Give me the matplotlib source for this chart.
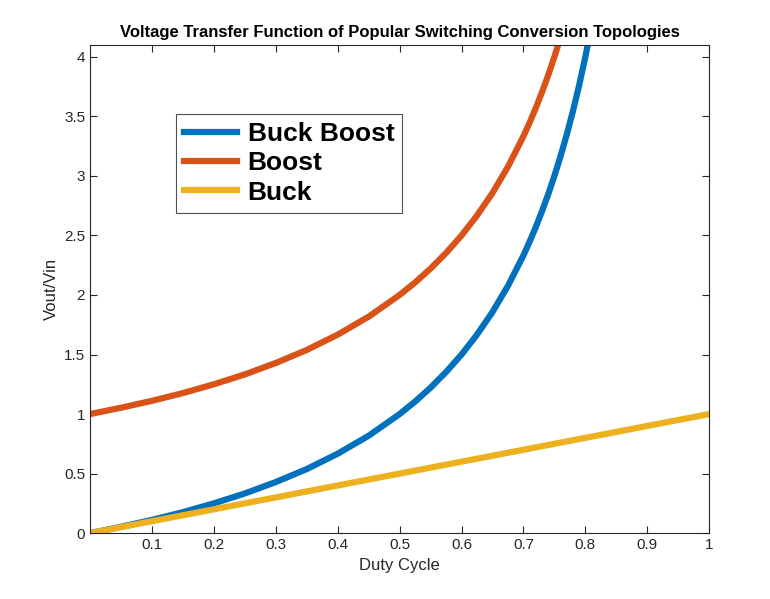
import matplotlib
matplotlib.use("Agg")
import matplotlib.pyplot as plt

plt.rcParams["font.family"] = "Liberation Sans"

duty = [0, 0.05, 0.1, 0.15, 0.2, 0.25, 0.3, 0.35, 0.4, 0.45, 0.5, 0.525, 0.55, 0.575, 0.6, 0.625, 0.65, 0.675, 0.7, 0.71, 0.72, 0.73, 0.74, 0.75, 0.76, 0.77, 0.78, 0.79, 0.8, 0.81]
buck_boost = [0, 0.053, 0.111, 0.176, 0.25, 0.333, 0.429, 0.538, 0.667, 0.818, 1.0, 1.105, 1.222, 1.353, 1.5, 1.667, 1.857, 2.077, 2.333, 2.448, 2.571, 2.704, 2.846, 3.0, 3.167, 3.348, 3.545, 3.762, 4.0, 4.263]
boost = [1.0, 1.053, 1.111, 1.176, 1.25, 1.333, 1.429, 1.538, 1.667, 1.818, 2.0, 2.105, 2.222, 2.353, 2.5, 2.667, 2.857, 3.077, 3.333, 3.448, 3.571, 3.704, 3.846, 4.0, 4.167, 4.348, 4.545, 4.762, 5.0, 5.263]
buck_x = [0, 1]
buck_y = [0, 1]

fig = plt.figure(figsize=(7.7, 5.99), dpi=100)
ax = fig.add_axes([0.117, 0.110, 0.804, 0.815])
ax.plot(duty, buck_boost, color="#0072BD", lw=4.5, label="Buck Boost")
ax.plot(duty, boost, color="#D95319", lw=4.5, label="Boost")
ax.plot(buck_x, buck_y, color="#EDB120", lw=4.5, label="Buck")
ax.set_xlim(0, 1)
ax.set_ylim(0, 4.1)
ax.set_xticks([0.1,0.2,0.3,0.4,0.5,0.6,0.7,0.8,0.9,1])
ax.set_xticklabels(["0.1","0.2","0.3","0.4","0.5","0.6","0.7","0.8","0.9","1"])
ax.set_yticks([0,0.5,1,1.5,2,2.5,3,3.5,4])
ax.set_yticklabels(["0","0.5","1","1.5","2","2.5","3","3.5","4"])
ax.tick_params(direction="in", top=True, right=True, labelsize=11, colors="#262626", length=5)
for s in ax.spines.values():
    s.set_color("#262626"); s.set_linewidth(0.8)
ax.set_xlabel("Duty Cycle", fontsize=12, color="#262626")
ax.set_ylabel("Vout/Vin", fontsize=12, color="#262626")
ax.set_title("Voltage Transfer Function of Popular Switching Conversion Topologies", fontsize=12, fontweight="bold", pad=6)
leg = ax.legend(loc="upper left", bbox_to_anchor=(0.118, 0.885), prop={"size": 19, "weight": "bold"},
                frameon=True, fancybox=False, edgecolor="#262626", handlelength=2.0, handletextpad=0.4,
                borderpad=0.3, labelspacing=0.2)
leg.get_frame().set_linewidth(0.8)
fig.savefig("out.png", dpi=100)
